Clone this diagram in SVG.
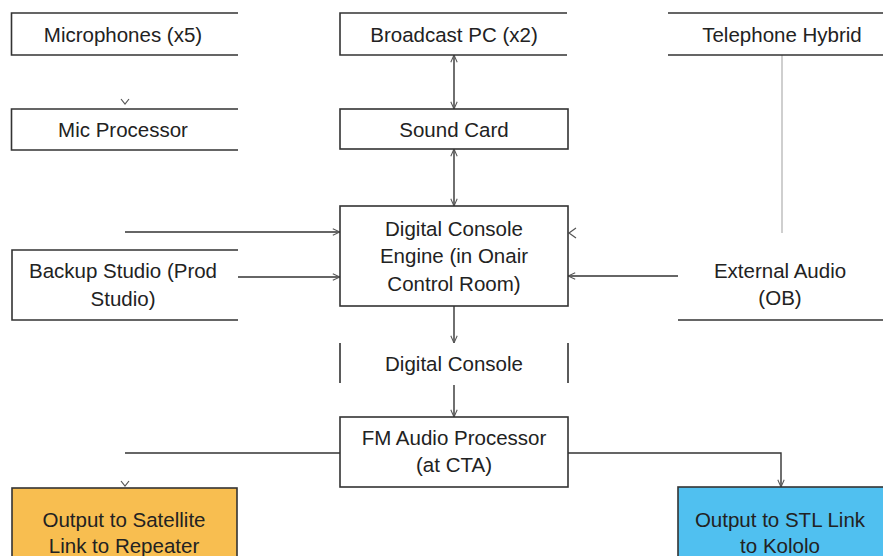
<svg xmlns="http://www.w3.org/2000/svg" width="883" height="556" viewBox="0 0 883 556">
<defs>
<style>
.edge{fill:none;stroke:#333;stroke-width:1.6}
.box{fill:#fff;stroke:#333;stroke-width:1.6}
.t{font-family:"Liberation Sans",Arial,sans-serif;font-size:20.5px;fill:#222;text-anchor:middle}
.c{fill:none;stroke:#333;stroke-width:1.4}
.g{fill:none;stroke:#bbb;stroke-width:1.4}
.head{fill:none;stroke:#555;stroke-width:1.2}
</style>
<marker id="ah" viewBox="0 0 10 10" refX="10" refY="5" markerWidth="8" markerHeight="8" markerUnits="userSpaceOnUse" orient="auto-start-reverse">
<path d="M1,1 L10,5 L1,9" fill="none" stroke="#555" stroke-width="1.3"/>
</marker>
</defs>
<rect width="883" height="556" fill="#fff"/>
<g id="connectors">
<path class="head" d="M121,99 L125,104 L129,99"/>
<line class="c" x1="454" y1="55" x2="454" y2="109" marker-start="url(#ah)" marker-end="url(#ah)"/>
<line class="c" x1="454" y1="149" x2="454" y2="206" marker-start="url(#ah)" marker-end="url(#ah)"/>
<line class="c" x1="125" y1="232" x2="340" y2="232" marker-end="url(#ah)"/>
<line class="c" x1="238" y1="277" x2="340" y2="277" marker-end="url(#ah)"/>
<line class="g" x1="782" y1="55" x2="782" y2="233"/>
<path class="head" d="M576,228 L569,233 L576,238"/>
<line class="c" x1="678" y1="276" x2="568" y2="276" marker-end="url(#ah)"/>
<line class="c" x1="454" y1="306" x2="454" y2="343" marker-end="url(#ah)"/>
<line class="c" x1="454" y1="385" x2="454" y2="417" marker-end="url(#ah)"/>
<line class="c" x1="340" y1="453" x2="125" y2="453"/>
<path class="head" d="M121,481 L125,486 L129,481"/>
<polyline class="c" points="568,453 781,453 781,487" marker-end="url(#ah)"/>
</g>
<g id="microphones">
<path class="edge" d="M238,13 H11.5 V55 H238"/>
<text class="t" x="123" y="42">Microphones (x5)</text>
</g>
<g id="mic-processor">
<path class="edge" d="M238,109 H11.5 V150 H238"/>
<text class="t" x="123" y="137">Mic Processor</text>
</g>
<g id="broadcast-pc">
<path class="edge" d="M567,13 H340 V55 H567"/>
<text class="t" x="454" y="42">Broadcast PC (x2)</text>
</g>
<g id="sound-card">
<rect class="box" x="340" y="109" width="228" height="40"/>
<text class="t" x="454" y="137">Sound Card</text>
</g>
<g id="telephone-hybrid">
<path class="edge" d="M668,13 H883 M668,55 H883"/>
<text class="t" x="782" y="42">Telephone Hybrid</text>
</g>
<g id="console-engine">
<rect class="box" x="340" y="206" width="228" height="100"/>
<text class="t" x="454" y="236">Digital Console</text>
<text class="t" x="454" y="263">Engine (in Onair</text>
<text class="t" x="454" y="291">Control Room)</text>
</g>
<g id="backup-studio">
<path class="edge" d="M238,250 H12 V320 H238"/>
<text class="t" x="123" y="278">Backup Studio (Prod</text>
<text class="t" x="123" y="306">Studio)</text>
</g>
<g id="external-audio">
<path class="edge" d="M678,320 H883"/>
<text class="t" x="780" y="278">External Audio</text>
<text class="t" x="780" y="305">(OB)</text>
</g>
<g id="digital-console">
<path class="edge" d="M340,343 V383 M568,343 V383"/>
<text class="t" x="454" y="371">Digital Console</text>
</g>
<g id="fm-processor">
<rect class="box" x="340" y="417" width="228" height="70"/>
<text class="t" x="454" y="445">FM Audio Processor</text>
<text class="t" x="454" y="472">(at CTA)</text>
</g>
<g id="output-satellite">
<rect x="12" y="488" width="225" height="80" fill="#F8BE50" stroke="#333" stroke-width="1.6"/>
<text class="t" x="124" y="527">Output to Satellite</text>
<text class="t" x="124" y="553">Link to Repeater</text>
</g>
<g id="output-stl">
<rect x="678" y="487" width="215" height="80" fill="#50C0F0" stroke="#333" stroke-width="1.6"/>
<text class="t" x="780" y="527">Output to STL Link</text>
<text class="t" x="780" y="553">to Kololo</text>
</g>
</svg>
